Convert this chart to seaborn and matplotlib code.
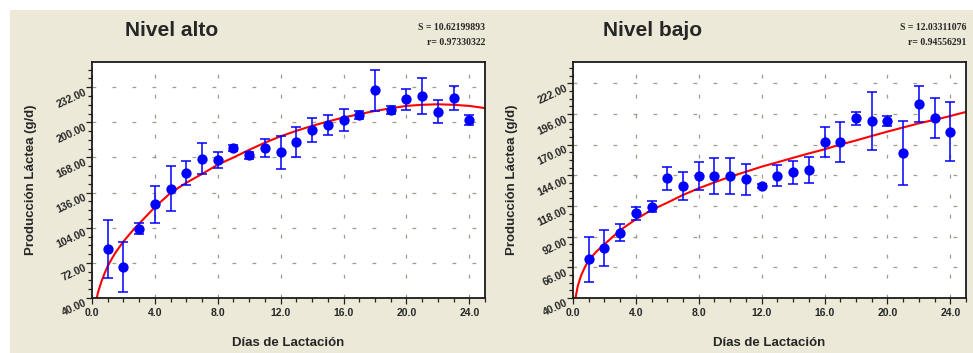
import matplotlib
matplotlib.use('Agg')
import matplotlib.pyplot as plt
from matplotlib.patches import Rectangle
from matplotlib.ticker import FixedLocator, MultipleLocator, FormatStrFormatter
import seaborn as sns
import pandas as pd
import numpy as np

# Datos
dias = list(range(1, 25))

alto_media = [84.7, 68.4, 103.2, 125.2, 139.6, 153.9, 166.9, 165.7, 176.6, 169.9, 176.6, 172.6,
              181.8, 193.2, 197.5, 202.3, 206.8, 229.2, 211.1, 221.0, 224.0, 209.8, 222.3, 202.3]
alto_error = [26.4, 23.0, 5.2, 17.0, 20.5, 11.3, 13.9, 7.7, 2.6, 3.5, 8.6, 15.4,
              13.6, 11.2, 9.4, 10.1, 3.8, 18.8, 3.5, 9.4, 16.8, 10.3, 11.2, 4.5]

bajo_media = [72.8, 82.6, 95.3, 111.8, 117.4, 141.4, 134.9, 143.6, 143.6, 143.1, 140.6, 134.9,
              143.6, 146.5, 148.5, 172.5, 172.5, 192.3, 190.3, 190.3, 163.1, 204.4, 192.3, 181.0]
bajo_error = [19.2, 15.3, 7.1, 5.4, 4.6, 9.5, 12.0, 12.0, 15.4, 15.3, 13.0, 2.0,
              8.8, 9.9, 11.3, 12.8, 17.0, 5.4, 24.7, 4.2, 27.3, 15.5, 17.0, 25.0]

# curvas ajustadas (leidas punto a punto)
curva_alto_x = [0.25, 0.4, 0.6, 0.8, 1.0, 1.25, 1.5, 2.0, 2.5, 3, 4, 5, 6, 7, 8, 9, 10, 11, 12,
                13, 14, 15, 16, 17, 18, 19, 20, 21, 22, 23, 24, 25]
curva_alto_y = [37, 46, 55, 62.5, 69, 75.5, 81.5, 91.5, 100, 107.8, 122.8, 135.8, 145, 153, 161.5,
                168, 175, 181.5, 187.3, 192.3, 196.8, 200.8, 204.4, 207.5, 210.4, 212.8, 215,
                216, 216.5, 216, 215, 213]

curva_bajo_x = [0.12, 0.3, 0.5, 0.75, 1, 1.5, 2, 2.5, 3, 4, 5, 6, 7, 8, 9, 10, 11, 12, 13, 14,
                15, 16, 17, 18, 19, 20, 21, 22, 23, 24, 25]
curva_bajo_y = [37, 50, 58.5, 66, 72, 79.5, 85.5, 91.5, 97.5, 106.7, 114.6, 120.8, 127.3, 133,
                138, 142.8, 147, 151.3, 155, 158.8, 162.5, 166, 170, 173.5, 177.3, 181, 184.5,
                188, 191, 194.2, 197.7]

paneles = [
    {'titulo': 'Nivel alto', 'S': 'S = 10.62199893', 'r': 'r= 0.97330322',
     'media': alto_media, 'error': alto_error, 'cx': curva_alto_x, 'cy': curva_alto_y,
     'ylim': (40, 255), 'ypaso': 32},
    {'titulo': 'Nivel bajo', 'S': 'S = 12.03311076', 'r': 'r= 0.94556291',
     'media': bajo_media, 'error': bajo_error, 'cx': curva_bajo_x, 'cy': curva_bajo_y,
     'ylim': (40, 240), 'ypaso': 26},
]

sns.set_style('ticks')
plt.rcParams['font.family'] = ['Liberation Sans', 'DejaVu Sans']

W, H = 973, 353
fig = plt.figure(figsize=(W / 100, H / 100), dpi=100)
fig.patch.set_facecolor('white')
fig.patches.append(Rectangle((10 / W, 0), 1, (H - 10) / H, transform=fig.transFigure,
                             facecolor='#ECE9D8', edgecolor='none', zorder=-10))

posiciones = [92, 573]
for p, x0 in zip(paneles, posiciones):
    ax = fig.add_axes([x0 / W, (H - 298) / H, 393 / W, 236 / H])
    ax.set_facecolor('white')

    df = pd.DataFrame({'dia': dias, 'media': p['media'], 'error': p['error']})
    curva = pd.DataFrame({'x': p['cx'], 'y': p['cy']})

    sns.lineplot(data=curva, x='x', y='y', ax=ax, color='red', linewidth=1.5,
                 sort=False, estimator=None, zorder=2)
    ax.errorbar(df['dia'], df['media'], yerr=df['error'], fmt='none', ecolor='blue',
                elinewidth=1.1, capsize=3.6, capthick=1.1, zorder=3)
    sns.scatterplot(data=df, x='dia', y='media', ax=ax, color='blue', edgecolor='blue',
                    s=55, linewidth=0, zorder=4)

    y0, y1 = p['ylim']
    paso = p['ypaso']
    ax.set_xlim(0, 25)
    ax.set_ylim(y0, y1)
    ax.xaxis.set_major_locator(MultipleLocator(4))
    ax.xaxis.set_minor_locator(MultipleLocator(1))
    ax.yaxis.set_major_locator(FixedLocator(np.arange(y0, y1 + 0.1, paso)))
    ax.yaxis.set_minor_locator(FixedLocator(np.arange(y0, y1 + 0.1, paso / 4)))
    ax.xaxis.set_major_formatter(FormatStrFormatter('%.1f'))
    ax.yaxis.set_major_formatter(FormatStrFormatter('%.2f'))

    ax.grid(True, which='major', color='#9E9A8C', linestyle=(0, (3, 13)), linewidth=0.9)
    ax.tick_params(axis='both', which='major', length=4, width=0.9, color='#222222',
                   labelsize=7.5)
    ax.tick_params(axis='both', which='minor', length=3, width=0.9, color='#222222')
    ax.tick_params(axis='x', pad=3)
    ax.tick_params(axis='y', pad=2)
    for lab in ax.get_xticklabels():
        lab.set_fontweight('bold')
    for lab in ax.get_yticklabels():
        lab.set_fontweight('bold')
        lab.set_rotation(25)
        lab.set_rotation_mode('anchor')
        lab.set_ha('right')
        lab.set_va('top')

    for s in ax.spines.values():
        s.set_linewidth(1.3)
        s.set_color('#1a1a1a')

    ax.set_xlabel('Días de Lactación', fontsize=9.5, fontweight='bold')
    ax.set_ylabel('Producción Láctea (g/d)', fontsize=9.5, fontweight='bold')
    ax.xaxis.set_label_coords(0.5, -0.19)
    ax.xaxis.label.set_va('center')
    ax.yaxis.set_label_coords(-0.155, 0.5)
    ax.yaxis.label.set_va('center')

    cx = (x0 + 393 / 2 - 117) / W
    fig.text(cx, 1 - 31 / H, p['titulo'], ha='center', va='center', fontsize=15,
             fontweight='bold')
    fig.text((x0 + 393) / W, 1 - 27.7 / H, p['S'], ha='right', va='center', fontsize=7,
             fontweight='bold', family='Liberation Serif')
    fig.text((x0 + 393) / W, 1 - 42.7 / H, p['r'], ha='right', va='center', fontsize=7,
             fontweight='bold', family='Liberation Serif')

fig.savefig('out.png', dpi=100)
